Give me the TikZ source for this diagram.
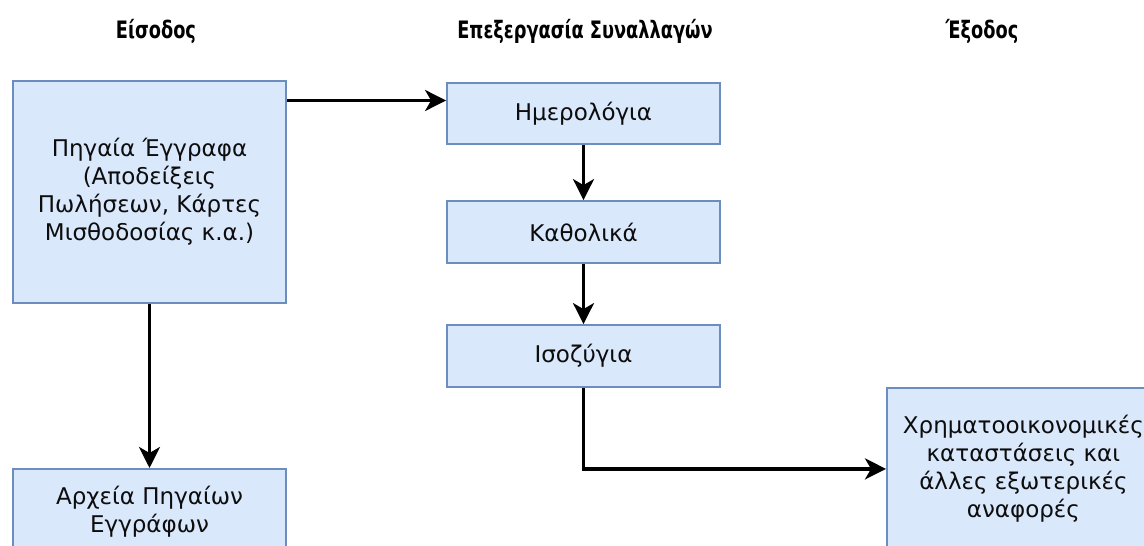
\documentclass[tikz,border=0pt]{standalone}
\usepackage{fontspec}
\setmainfont{DejaVu Sans}
\newfontfamily\headfont{DejaVu Sans}[FakeStretch=0.74]
\usetikzlibrary{arrows.meta}
\definecolor{boxfill}{HTML}{DAE8FC}
\definecolor{boxline}{HTML}{6C8EBF}
\tikzset{
  box/.style={draw=boxline, fill=boxfill, line width=1.8pt, align=center,
    minimum width=273pt, inner sep=2pt,
    font=\fontsize{23}{28}\selectfont, text=black!95},
  head/.style={font=\headfont\bfseries\fontsize{24}{28}\selectfont, text=black},
  arr/.style={line width=3.2pt, -{Stealth[length=21pt,width=21pt,inset=6pt]}},
}
\begin{document}
\begin{tikzpicture}[x=1pt,y=-1pt]
  \useasboundingbox (0,0) rectangle (1144,546);
  \clip (0,0) rectangle (1144,546);

  % column headings
  \node[head] (hin)  at (156,31) {Είσοδος};
  \node[head] (hpro) at (585,31) {Επεξεργασία Συναλλαγών};
  \node[head] (hout) at (982,31) {Έξοδος};

  % input column
  \node[box, minimum height=222pt] (src) at (149.5,192)
    {Πηγαία Έγγραφα\\(Αποδείξεις\\Πωλήσεων, Κάρτες\\Μισθοδοσίας κ.α.)};
  \node[box, minimum height=86pt, anchor=north] (arc) at (149.5,468)
    {Αρχεία Πηγαίων\\Εγγράφων};

  % transaction processing column
  \node[box, minimum height=61pt] (hm)  at (583.5,113.5) {Ημερολόγια};
  \node[box, minimum height=62pt] (kat) at (583.5,232) {Καθολικά};
  \node[box, minimum height=62pt] (iso) at (583.5,356) {Ισοζύγια};

  % output column
  \node[box, minimum height=162pt, anchor=north west] (out) at (886,387)
    {Χρηματοοικονομικές\\καταστάσεις και\\άλλες εξωτερικές\\αναφορές};

  % connectors
  \coordinate (hmin) at ([yshift=13pt]hm.west);
  \draw[arr] (src.east |- hmin) -- (hmin);
  \draw[arr] (hm) -- (kat);
  \draw[arr] (kat) -- (iso);
  \draw[arr] (src) -- (arc);
  \draw[arr] (iso.south) |- (out.west);
\end{tikzpicture}
\end{document}
